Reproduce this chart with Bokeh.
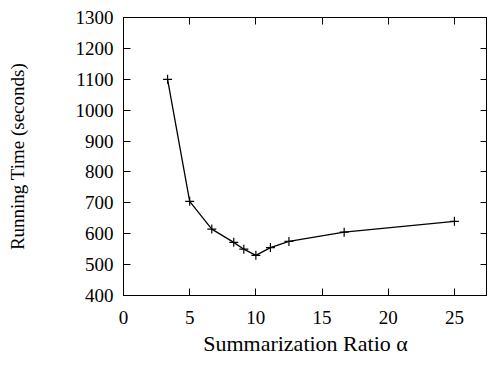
from bokeh.plotting import figure
from bokeh.models import Range1d, LinearAxis, CustomJSTickFormatter
from bokeh.embed import file_html
from bokeh.resources import INLINE

ratio = [3.33, 5.0, 6.67, 8.33, 9.09, 10.0, 11.1, 12.5, 16.67, 25.0]
running_time = [1100, 705, 615, 572, 550, 530, 555, 575, 605, 640]

x_ticks = [0, 5, 10, 15, 20, 25]
y_ticks = [400, 500, 600, 700, 800, 900, 1000, 1100, 1200, 1300]

FONT = "Liberation Serif"

p = figure(width=487, height=358, x_range=Range1d(0, 27.5), y_range=Range1d(400, 1300),
           output_backend="svg", toolbar_location=None,
           min_border_left=123, min_border_right=0, min_border_top=17, min_border_bottom=0,
           x_axis_label="Summarization Ratio α", y_axis_label="Running Time (seconds)")

p.grid.visible = False
p.outline_line_color = "black"
p.outline_line_width = 1
p.background_fill_color = "white"
p.border_fill_color = "white"

for ax in [p.xaxis[0], p.yaxis[0]]:
    ax.major_tick_in = 7
    ax.major_tick_out = 0
    ax.minor_tick_line_color = None
    ax.axis_line_color = "black"
    ax.major_tick_line_color = "black"
    ax.major_label_text_font = FONT
    ax.major_label_text_font_size = "19px"
    ax.major_label_text_color = "black"
    ax.axis_label_text_font = FONT
    ax.axis_label_text_font_style = "normal"
    ax.axis_label_text_color = "black"

p.xaxis.axis_label_text_font_size = "22px"
p.yaxis.axis_label_text_font_size = "19px"
p.xaxis.ticker = x_ticks
p.yaxis.ticker = y_ticks
p.xaxis.major_label_standoff = 15
p.xaxis.axis_label_standoff = 4
p.yaxis.major_label_standoff = 10
p.yaxis.axis_label_standoff = 45

blank = CustomJSTickFormatter(code="return '';")
right = LinearAxis(ticker=y_ticks, major_tick_in=7, major_tick_out=0,
                   minor_tick_line_color=None, formatter=blank,
                   major_label_standoff=0, axis_line_color="black")
p.add_layout(right, "right")
top = LinearAxis(ticker=x_ticks, major_tick_in=7, major_tick_out=0,
                 minor_tick_line_color=None, formatter=blank,
                 major_label_standoff=0, axis_line_color="black")
p.add_layout(top, "above")

p.line(ratio, running_time, line_color="black", line_width=1.3)
p.scatter(ratio, running_time, marker="cross", size=9, line_color="black", line_width=1.2)

open("out.html", "w").write(file_html(p, INLINE))
